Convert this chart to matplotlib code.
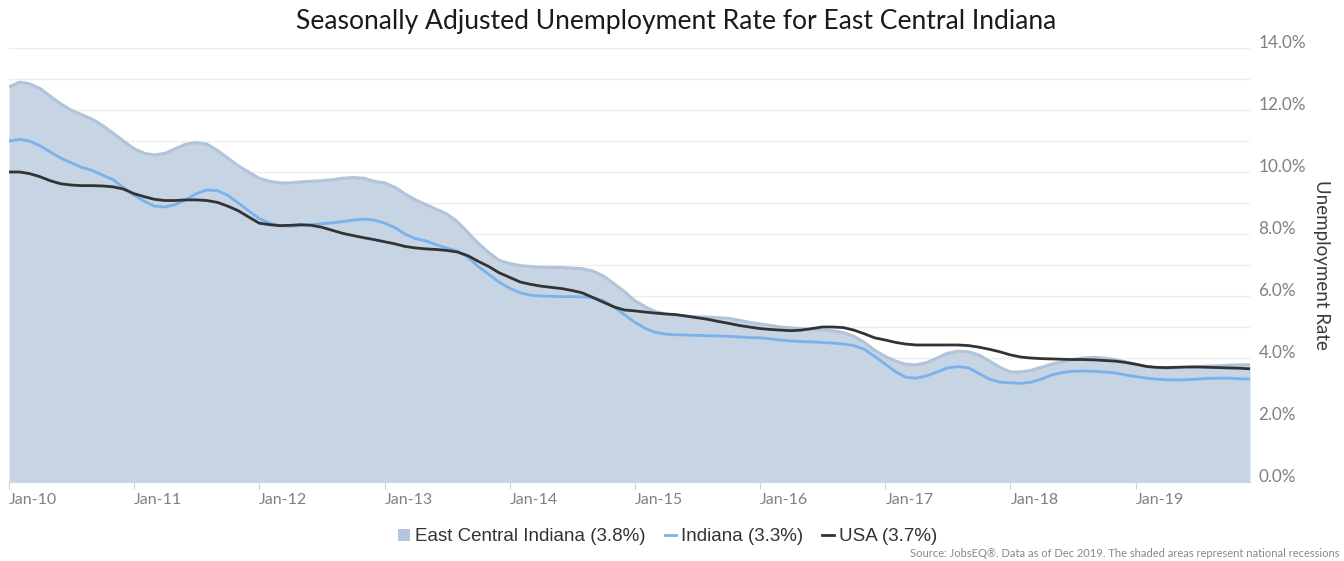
import matplotlib
matplotlib.use("Agg")
from matplotlib import pyplot as plt
from matplotlib.patches import Patch
from matplotlib.lines import Line2D
import matplotlib.transforms as mtransforms
import matplotlib.dates as mdates
import pandas as pd

# monthly values, Jan 2010 .. Dec 2019
months = pd.date_range("2010-01-01", periods=120, freq="MS")

east_central = [
    12.75, 12.9, 12.85, 12.7, 12.45, 12.2, 12.0, 11.85, 11.7, 11.5, 11.25, 11.0,
    10.75, 10.6, 10.55, 10.6, 10.75, 10.9, 10.95, 10.9, 10.7, 10.45, 10.2, 10.0,
    9.8, 9.7, 9.65, 9.65, 9.68, 9.7, 9.72, 9.75, 9.8, 9.82, 9.8, 9.7,
    9.65, 9.5, 9.3, 9.1, 8.95, 8.8, 8.65, 8.4, 8.05, 7.7, 7.4, 7.15,
    7.05, 6.98, 6.95, 6.93, 6.92, 6.92, 6.9, 6.88, 6.8, 6.65, 6.4, 6.15,
    5.85, 5.65, 5.5, 5.42, 5.38, 5.35, 5.33, 5.32, 5.3, 5.28, 5.22, 5.15,
    5.1, 5.05, 5.0, 4.97, 4.95, 4.93, 4.9, 4.88, 4.82, 4.7, 4.5, 4.25,
    4.05, 3.9, 3.8, 3.78, 3.85, 4.0, 4.15, 4.22, 4.2, 4.1, 3.9, 3.7,
    3.55, 3.55, 3.6, 3.7, 3.8, 3.88, 3.95, 4.0, 4.02, 4.0, 3.95, 3.88,
    3.8, 3.72, 3.68, 3.66, 3.68, 3.7, 3.72, 3.74, 3.75, 3.77, 3.78, 3.78,
]

indiana = [
    11.0, 11.05, 11.0, 10.85, 10.65, 10.45, 10.3, 10.15, 10.05, 9.9, 9.75, 9.5,
    9.25, 9.05, 8.9, 8.87, 8.95, 9.1, 9.3, 9.42, 9.4, 9.25, 9.0, 8.75,
    8.5, 8.35, 8.27, 8.25, 8.27, 8.3, 8.33, 8.36, 8.4, 8.45, 8.48, 8.45,
    8.35, 8.2, 8.0, 7.85, 7.78, 7.65, 7.55, 7.45, 7.25, 6.95, 6.7, 6.45,
    6.25, 6.1, 6.03, 6.0, 5.99, 5.98, 5.98, 5.97, 5.95, 5.85, 5.65, 5.4,
    5.15, 4.95, 4.83, 4.77, 4.75, 4.74, 4.73, 4.72, 4.71, 4.7, 4.68, 4.66,
    4.65, 4.62, 4.58, 4.55, 4.53, 4.52, 4.5, 4.48, 4.45, 4.4, 4.28, 4.05,
    3.8, 3.55, 3.38, 3.35, 3.42, 3.55, 3.68, 3.72, 3.68, 3.5, 3.32, 3.22,
    3.2, 3.18, 3.22, 3.32, 3.45, 3.53, 3.57, 3.58, 3.57, 3.55, 3.52, 3.46,
    3.4, 3.35, 3.32, 3.3, 3.29, 3.3, 3.32, 3.34, 3.35, 3.35, 3.33, 3.32,
]

usa = [
    10.0, 10.0, 9.95, 9.85, 9.72, 9.62, 9.58, 9.56, 9.56, 9.55, 9.52, 9.45,
    9.3, 9.2, 9.12, 9.08, 9.08, 9.1, 9.1, 9.08, 9.02, 8.9, 8.75, 8.55,
    8.35, 8.3, 8.27, 8.28, 8.3, 8.28, 8.22, 8.12, 8.02, 7.95, 7.88, 7.82,
    7.75, 7.68, 7.6, 7.55, 7.52, 7.5, 7.47, 7.42, 7.3, 7.12, 6.95, 6.75,
    6.6, 6.45, 6.38, 6.32, 6.28, 6.24, 6.18, 6.1, 5.95, 5.8, 5.65, 5.55,
    5.52, 5.48, 5.45, 5.42, 5.4, 5.35, 5.3, 5.25, 5.18, 5.12, 5.05, 5.0,
    4.95, 4.92, 4.9, 4.88, 4.9, 4.95, 5.0, 5.0, 4.98, 4.9, 4.78, 4.65,
    4.58, 4.5, 4.45, 4.42, 4.42, 4.42, 4.42, 4.42, 4.4, 4.35, 4.28, 4.2,
    4.1, 4.03, 4.0, 3.98, 3.97, 3.96, 3.95, 3.95, 3.94, 3.92, 3.9, 3.86,
    3.8, 3.73, 3.7, 3.69, 3.7, 3.71, 3.71, 3.7, 3.69, 3.68, 3.67, 3.65,
]

legend_labels = ["East Central Indiana (3.8%)", "Indiana (3.3%)", "USA (3.7%)"]

fill_col = "#c6d4e3"
edge_col = "#b1c4d9"
blue = "#79b2ec"
dark = "#333333"
thin = "Lato"

fig = plt.figure(figsize=(13.44, 5.61), dpi=100)
ax = fig.add_axes([9 / 1344, 1 - 482 / 561, 1241 / 1344, 434 / 561])

ax.fill_between(months, east_central, 0, color=fill_col, lw=0, zorder=1)
ax.plot(months, east_central, color=edge_col, lw=2.2, zorder=2)
ax.plot(months, indiana, color=blue, lw=2, zorder=3)
ax.plot(months, usa, color=dark, lw=2, zorder=4)

ax.set_xlim(months[0], months[-1])
ax.set_ylim(0, 14)

# y axis on the right, grid every 1%
ax.yaxis.tick_right()
ax.set_yticks(range(0, 15, 2))
ax.set_yticks(range(1, 15, 2), minor=True)
ax.set_yticklabels([f"{v:.1f}%" for v in range(0, 15, 2)])
ax.grid(axis="y", which="both", color="#eeeeee", lw=1, zorder=0)
ax.tick_params(axis="y", which="both", length=0, pad=6,
               labelsize=12.3, labelcolor="#808080")
off = mtransforms.ScaledTranslation(0, 6 / 100, fig.dpi_scale_trans)
for lab in ax.get_yticklabels():
    lab.set_fontfamily(thin)
    lab.set_transform(lab.get_transform() + off)

ax.yaxis.set_label_position("right")
ax.set_ylabel("Unemployment Rate", rotation=270, fontsize=13.5,
              color="#3a3a3a", family=thin, labelpad=17)

# x axis
jan_ticks = pd.date_range("2010-01-01", "2019-01-01", freq="YS")
ax.set_xticks(jan_ticks)
ax.xaxis.set_major_formatter(mdates.DateFormatter("Jan-%y"))
ax.tick_params(axis="x", length=5, color="#c8d6e6", pad=3,
               labelsize=11.5, labelcolor="#808080")
for lab in ax.get_xticklabels():
    lab.set_horizontalalignment("left")
    lab.set_fontfamily(thin)

for s in ["left", "right", "top"]:
    ax.spines[s].set_visible(False)
ax.spines["bottom"].set_color("#c8d6e6")
ax.set_axisbelow(True)

fig.text(0.503, 0.962, "Seasonally Adjusted Unemployment Rate for East Central Indiana",
         ha="center", va="center", fontsize=19.1, family=thin,
         color="#1a1a1a")

handles = [
    Patch(facecolor="#b3c6db", edgecolor="none"),
    Line2D([0], [0], color=blue, lw=2),
    Line2D([0], [0], color=dark, lw=2),
]
fig.legend(handles, legend_labels, loc="center", bbox_to_anchor=(0.497, 0.043),
           ncol=3, frameon=False, handlelength=0.6, handleheight=0.6,
           handletextpad=0.3, columnspacing=1.0,
           prop={"family": "Liberation Sans", "size": 13.5}, labelcolor=dark)

fig.text(0.997, 0.013,
         "Source: JobsEQ\u00ae. Data as of Dec 2019. The shaded areas represent national recessions",
         ha="right", va="center", fontsize=8.0, color="#888888", family=thin)

fig.savefig("out.png", dpi=100)
